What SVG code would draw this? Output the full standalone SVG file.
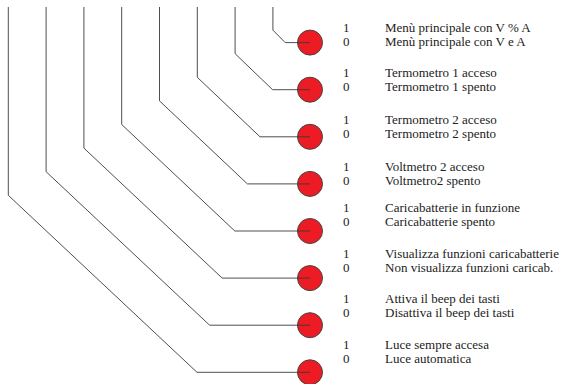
<svg xmlns="http://www.w3.org/2000/svg" width="565" height="384" viewBox="0 0 565 384">
<style>
.dot{fill:#ed1c24;stroke:#444;stroke-width:1}
.wire{fill:none;stroke:#3a3a3a;stroke-width:0.9}
.t{font-family:"Liberation Serif","Times New Roman",serif;font-size:13px;fill:#222}
</style>
<rect width="565" height="384" fill="#fff"/>
<g id="bit7"><circle class="dot" cx="310" cy="42.6" r="12.5"/><text class="t" x="343" y="31.5">1</text><text class="t" x="385" y="31.5">Menù principale con V % A</text><text class="t" x="343" y="45.5">0</text><text class="t" x="385" y="45.5">Menù principale con V e A</text></g>
<g id="bit6"><circle class="dot" cx="310" cy="89.7" r="12.5"/><text class="t" x="343" y="76.5">1</text><text class="t" x="385" y="76.5">Termometro 1 acceso</text><text class="t" x="343" y="90.5">0</text><text class="t" x="385" y="90.5">Termometro 1 spento</text></g>
<g id="bit5"><circle class="dot" cx="310" cy="136.8" r="12.5"/><text class="t" x="343" y="123.5">1</text><text class="t" x="385" y="123.5">Termometro 2 acceso</text><text class="t" x="343" y="137.5">0</text><text class="t" x="385" y="137.5">Termometro 2 spento</text></g>
<g id="bit4"><circle class="dot" cx="310" cy="183.9" r="12.5"/><text class="t" x="343" y="170.5">1</text><text class="t" x="385" y="170.5">Voltmetro 2 acceso</text><text class="t" x="343" y="184.5">0</text><text class="t" x="385" y="184.5">Voltmetro2 spento</text></g>
<g id="bit3"><circle class="dot" cx="310" cy="231" r="12.5"/><text class="t" x="343" y="211.5">1</text><text class="t" x="385" y="211.5">Caricabatterie in funzione</text><text class="t" x="343" y="225.5">0</text><text class="t" x="385" y="225.5">Caricabatterie spento</text></g>
<g id="bit2"><circle class="dot" cx="310" cy="278.1" r="12.5"/><text class="t" x="343" y="258">1</text><text class="t" x="385" y="258">Visualizza funzioni caricabatterie</text><text class="t" x="343" y="272">0</text><text class="t" x="385" y="272">Non visualizza funzioni caricab.</text></g>
<g id="bit1"><circle class="dot" cx="310" cy="325.2" r="12.5"/><text class="t" x="343" y="302.5">1</text><text class="t" x="385" y="302.5">Attiva il beep dei tasti</text><text class="t" x="343" y="316.5">0</text><text class="t" x="385" y="316.5">Disattiva il beep dei tasti</text></g>
<g id="bit0"><circle class="dot" cx="310" cy="372.3" r="12.5"/><text class="t" x="343" y="348.5">1</text><text class="t" x="385" y="348.5">Luce sempre accesa</text><text class="t" x="343" y="362.5">0</text><text class="t" x="385" y="362.5">Luce automatica</text></g>
<g id="connectors">
<polyline class="wire" points="8.3,7 8.3,195.3 197,372.3 310,372.3"/>
<polyline class="wire" points="46.1,7 46.1,171.7 209.6,325.2 310,325.2"/>
<polyline class="wire" points="83.9,7 83.9,148.1 222.2,278.1 310,278.1"/>
<polyline class="wire" points="121.7,7 121.7,124.5 234.8,231 310,231"/>
<polyline class="wire" points="159.5,7 159.5,100.9 247.4,183.9 310,183.9"/>
<polyline class="wire" points="197.3,7 197.3,77.3 260,136.8 310,136.8"/>
<polyline class="wire" points="235.1,7 235.1,53.7 272.6,89.7 310,89.7"/>
<polyline class="wire" points="272.9,7 272.9,30.1 285.2,42.6 310,42.6"/>
</g>
</svg>
